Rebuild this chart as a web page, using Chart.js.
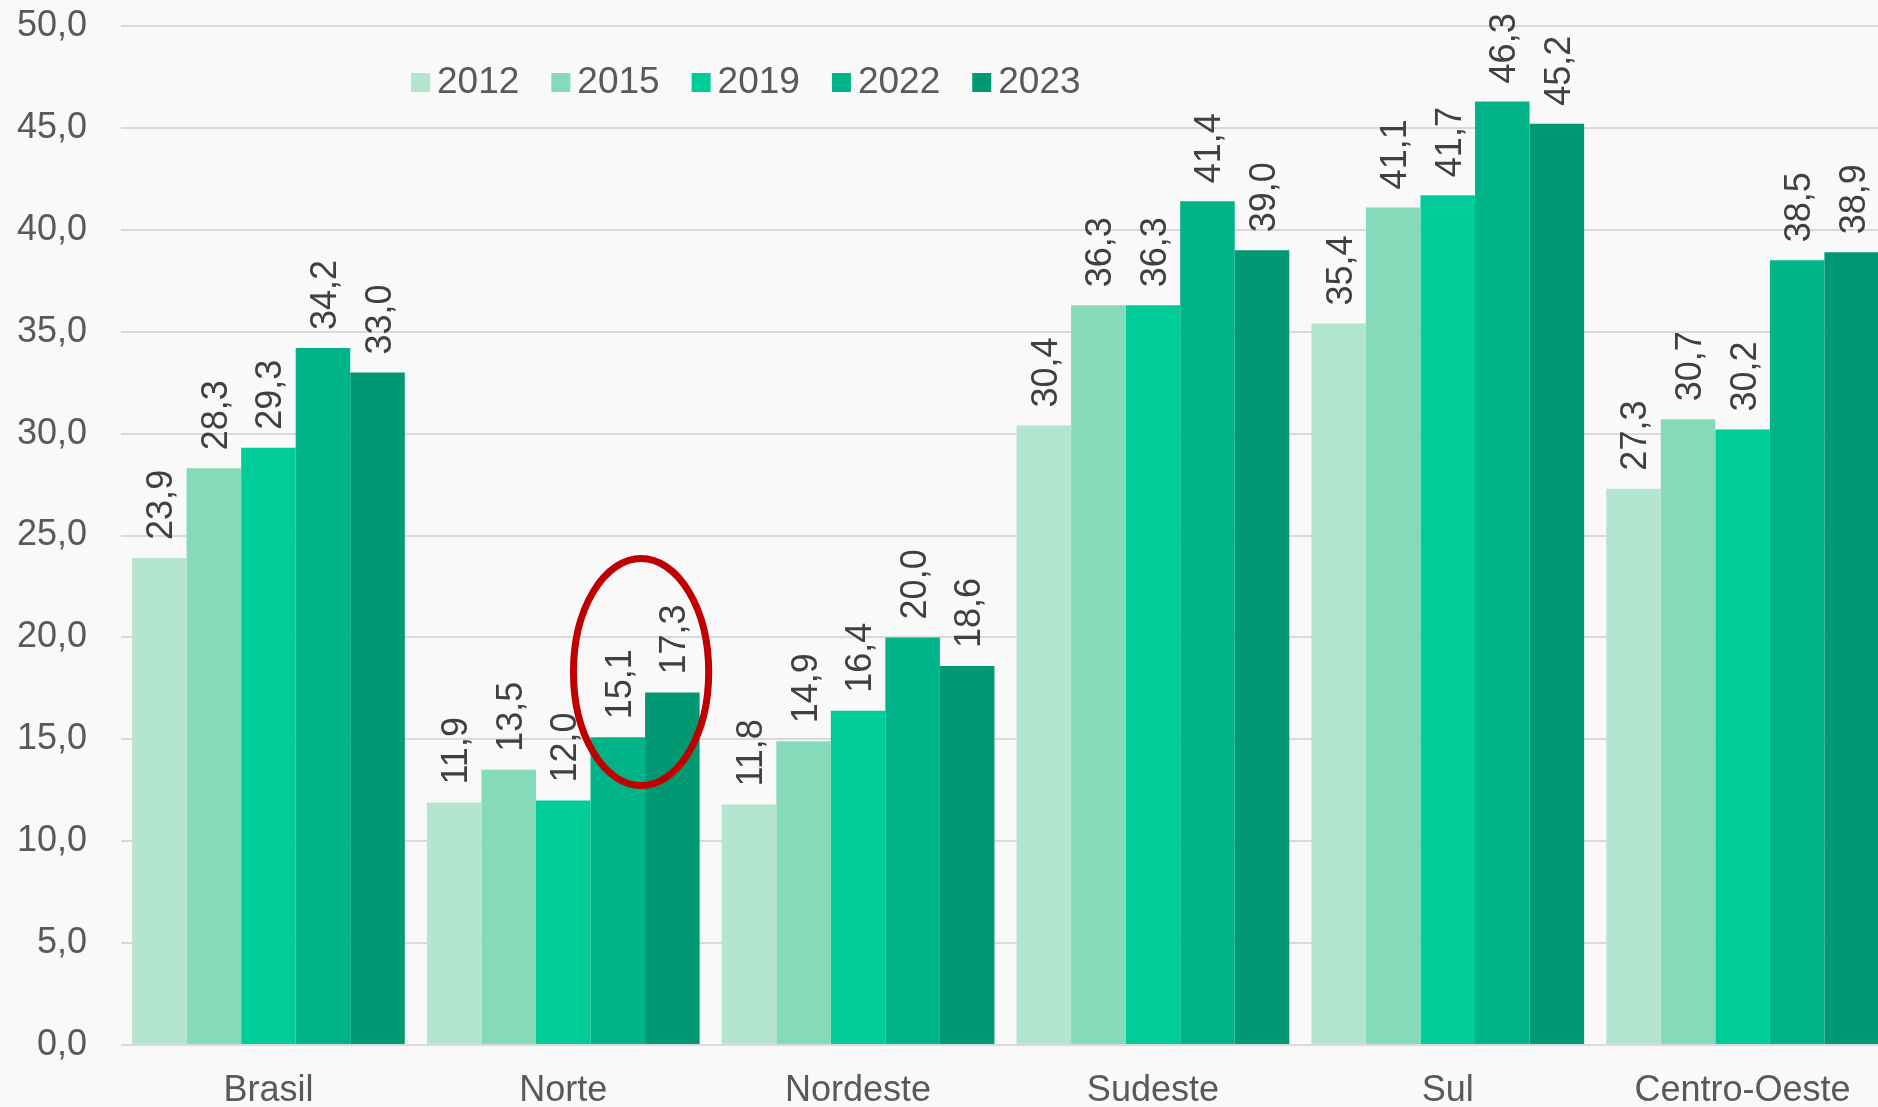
<!DOCTYPE html>
<html>
<head>
<meta charset="utf-8">
<script src="https://cdn.jsdelivr.net/npm/chart.js@4.4.1/dist/chart.umd.min.js"></script>
<style>
  html, body { margin: 0; padding: 0; overflow: hidden; background: #F9F9F9; }
  #wrap { position: relative; width: 1890px; height: 1107px; }
</style>
</head>
<body>
<div id="wrap"><canvas id="c"></canvas></div>
<script>
const categories = ['Brasil', 'Norte', 'Nordeste', 'Sudeste', 'Sul', 'Centro-Oeste'];
const seriesNames = ['2012', '2015', '2019', '2022', '2023'];
const values2012 = [23.9, 11.9, 11.8, 30.4, 35.4, 27.3];
const values2015 = [28.3, 13.5, 14.9, 36.3, 41.1, 30.7];
const values2019 = [29.3, 12.0, 16.4, 36.3, 41.7, 30.2];
const values2022 = [34.2, 15.1, 20.0, 41.4, 46.3, 38.5];
const values2023 = [33.0, 17.3, 18.6, 39.0, 45.2, 38.9];
const seriesColors = ['#B4E5D1', '#85DAB9', '#00CC99', '#00B388', '#009973'];
const yTickLabels = ['0,0', '5,0', '10,0', '15,0', '20,0', '25,0', '30,0', '35,0', '40,0', '45,0', '50,0'];
// highlighted group: Norte, series 2022 & 2023
const highlightCategory = 1;
const highlightSeries = [3, 4];

const allValues = [values2012, values2015, values2019, values2022, values2023];
const FONT = '"Liberation Sans", Arial, sans-serif';

const bgPlugin = {
  id: 'bg',
  beforeDraw(chart) {
    const ctx = chart.ctx;
    ctx.save();
    ctx.fillStyle = '#F9F9F9';
    ctx.fillRect(0, 0, chart.width, chart.height);
    ctx.restore();
  }
};

const labelPlugin = {
  id: 'vlabels',
  afterDatasetsDraw(chart) {
    const ctx = chart.ctx;
    ctx.save();
    ctx.font = '36px ' + FONT;
    ctx.fillStyle = '#404040';
    ctx.textAlign = 'left';
    ctx.textBaseline = 'alphabetic';
    chart.data.datasets.forEach((ds, di) => {
      const meta = chart.getDatasetMeta(di);
      meta.data.forEach((bar, i) => {
        const txt = ds.data[i].toFixed(1).replace('.', ',');
        ctx.save();
        ctx.translate(bar.x + 13, bar.y - 18);
        ctx.rotate(-Math.PI / 2);
        ctx.fillText(txt, 0, 0);
        ctx.restore();
      });
    });
    ctx.restore();
  }
};

const legendPlugin = {
  id: 'customLegend',
  afterDraw(chart) {
    const ctx = chart.ctx;
    ctx.save();
    ctx.font = '37px ' + FONT;
    ctx.textBaseline = 'alphabetic';
    let x = 411;
    const boxTop = 73, box = 19, base = 93;
    chart.data.datasets.forEach(ds => {
      ctx.fillStyle = ds.backgroundColor;
      ctx.fillRect(x, boxTop, box, box);
      ctx.fillStyle = '#595959';
      ctx.fillText(ds.label, x + box + 7, base);
      x += box + 7 + ctx.measureText(ds.label).width + 32;
    });
    ctx.restore();
  }
};

const ellipsePlugin = {
  id: 'ellipse',
  afterDraw(chart) {
    const m1 = chart.getDatasetMeta(highlightSeries[0]).data[highlightCategory];
    const m2 = chart.getDatasetMeta(highlightSeries[1]).data[highlightCategory];
    const y = chart.scales.y;
    const cx = (m1.x + m2.x) / 2 - 4;
    const bw = m2.x - m1.x;
    const rx = bw * 1.24;
    const cy = y.getPixelForValue(18.3);
    const ry = y.getPixelForValue(0) - y.getPixelForValue(5.57);
    const ctx = chart.ctx;
    ctx.save();
    ctx.strokeStyle = '#C00000';
    ctx.lineWidth = 7;
    ctx.beginPath();
    ctx.ellipse(cx, cy, rx, ry, 0, 0, Math.PI * 2);
    ctx.stroke();
    ctx.restore();
  }
};

new Chart(document.getElementById('c'), {
  type: 'bar',
  data: {
    labels: categories,
    datasets: seriesNames.map((name, i) => ({
      label: name,
      data: allValues[i],
      backgroundColor: seriesColors[i],
      borderWidth: 0,
      barPercentage: 1.0,
      categoryPercentage: 0.925
    }))
  },
  options: {
    responsive: true,
    maintainAspectRatio: false,
    animation: false,
    devicePixelRatio: 1,
    layout: { padding: { top: 26, left: 0, right: 0, bottom: 0 } },
    plugins: {
      legend: { display: false },
      tooltip: { enabled: false },
      title: { display: false }
    },
    scales: {
      x: {
        grid: { display: false },
        border: { display: false },
        ticks: {
          color: '#595959',
          font: { family: FONT, size: 36 },
          padding: 16,
          maxRotation: 0,
          autoSkip: false
        },
        afterFit(scale) { scale.height = 62; scale.paddingLeft = 0; scale.paddingRight = 0; }
      },
      y: {
        min: 0,
        max: 50,
        grid: { color: '#D9D9D9', lineWidth: 2, drawTicks: false },
        border: { display: false },
        ticks: {
          stepSize: 5,
          color: '#595959',
          font: { family: FONT, size: 36 },
          padding: 34,
          callback: (v, idx) => yTickLabels[idx]
        },
        afterFit(scale) { scale.width = 121; scale.paddingTop = 0; scale.paddingBottom = 0; }
      }
    }
  },
  plugins: [bgPlugin, labelPlugin, legendPlugin, ellipsePlugin]
});
</script>
</body>
</html>
